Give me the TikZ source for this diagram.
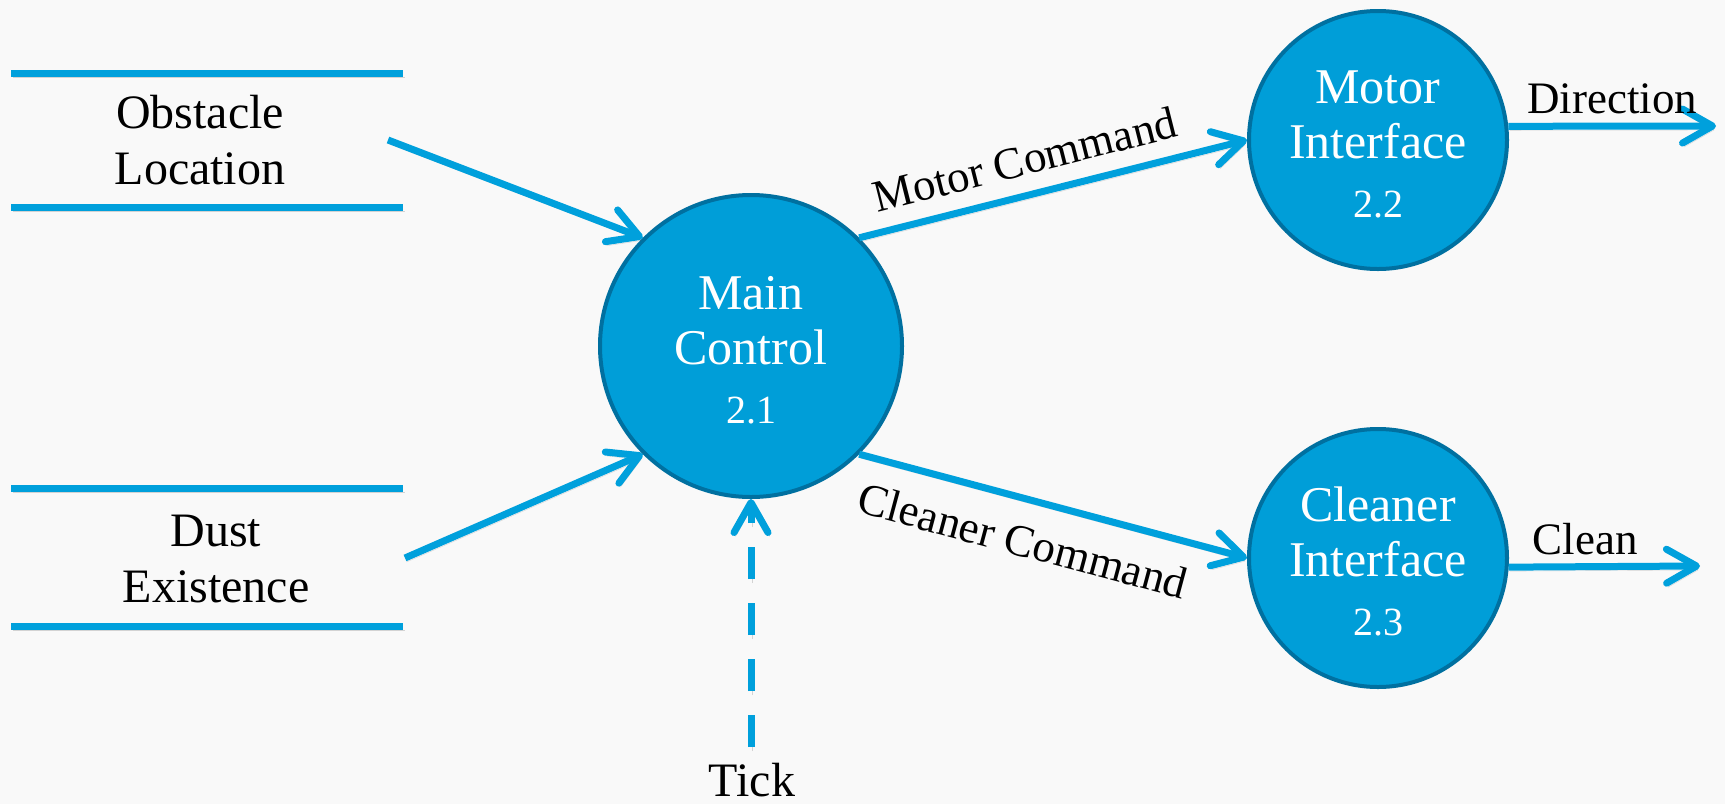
\documentclass[tikz,border=0pt]{standalone}
\usepackage{fontspec}
\setmainfont{Liberation Serif}
\usetikzlibrary{arrows.meta}
\definecolor{flow}{RGB}{0,160,220}
\definecolor{procfill}{RGB}{0,158,216}
\definecolor{procedge}{RGB}{0,112,160}
\definecolor{bg}{RGB}{249,249,249}
\begin{document}
\begin{tikzpicture}[x=1pt,y=-1pt,
  shadowed/.style={preaction={draw=black!70, opacity=0.22, transform canvas={shift={(1.5pt,-4pt)}}}},
  dashshadowed/.style={preaction={draw=black!70, opacity=0.22, dash pattern=on 32pt off 24pt, transform canvas={shift={(1.5pt,-4pt)}}}},
  storeline/.style={draw=flow, line width=7pt, shadowed},
  flowline/.style={draw=flow, line width=7pt, shadowed},
  flowarrow/.style={flowline, -{Straight Barb[length=30pt,width=34pt,round]}},
  dashedarrow/.style={draw=flow, line width=7pt, dashshadowed, dash pattern=on 32pt off 24pt,
    -{Straight Barb[length=30pt,width=34pt,round]}},
  proc/.style={circle, draw=procedge, line width=4pt, fill=procfill, text=white,
    align=center, font=\fontsize{50}{55}\selectfont, inner sep=0pt},
  lbl/.style={font=\fontsize{45}{50}\selectfont, text=black},
  store/.style={font=\fontsize{48}{56}\selectfont, align=center, text=black},
]
\path[use as bounding box, fill=bg] (0,0) rectangle (1725,804);

% data stores
\draw[storeline] (11,73) -- (403,73);
\draw[storeline] (11,207) -- (403,207);
\node[store] (obst) at (200,140) {Obstacle\\Location};
\draw[storeline] (11,488) -- (403,488);
\draw[storeline] (11,626) -- (403,626);
\node[store] (dust) at (216,559) {Dust\\Existence};

% processes
\node[proc, minimum size=302pt] (main) at (751,346)
  {\rule{0pt}{42pt}Main\\Control\\[4pt]{\fontsize{40}{55}\selectfont 2.1}};
\node[proc, minimum size=258pt] (motor) at (1378,140)
  {\rule{0pt}{42pt}Motor\\Interface\\[4pt]{\fontsize{40}{55}\selectfont 2.2}};
\node[proc, minimum size=258pt] (cleaner) at (1378,558)
  {\rule{0pt}{42pt}Cleaner\\Interface\\[4pt]{\fontsize{40}{55}\selectfont 2.3}};

% inputs
\coordinate (obstout) at (388,140);
\draw[flowarrow] (obstout) -- (main.135);
\coordinate (dustout) at (405,558);
\draw[flowarrow] (dustout) -- (main.225);

\coordinate (tickstart) at (751,747);
\draw[dashedarrow] (tickstart) -- (main.south);
\node[lbl, font=\fontsize{48}{50}\selectfont, anchor=base] (tick) at (752,796) {Tick};

% commands
\draw[flowarrow] (main.45) -- node[lbl, sloped, above, pos=0.45, inner sep=16pt] (lmc) {Motor Command} (motor.west);
\draw[flowarrow] (main.-45) -- node[lbl, sloped, below, pos=0.45, inner sep=22pt] (lcc) {Cleaner Command} (cleaner.west);

% outputs
\coordinate (dirend) at (1716,126);
\draw[flowarrow] (motor.6) -- node[lbl, above, pos=0.5, inner sep=9pt] (ldir) {Direction} (dirend);
\coordinate (cleanend) at (1700,566);
\draw[flowarrow] (cleaner.-4) -- node[lbl, above, pos=0.4, inner sep=8pt] (lclean) {Clean} (cleanend);
\end{tikzpicture}
\end{document}
